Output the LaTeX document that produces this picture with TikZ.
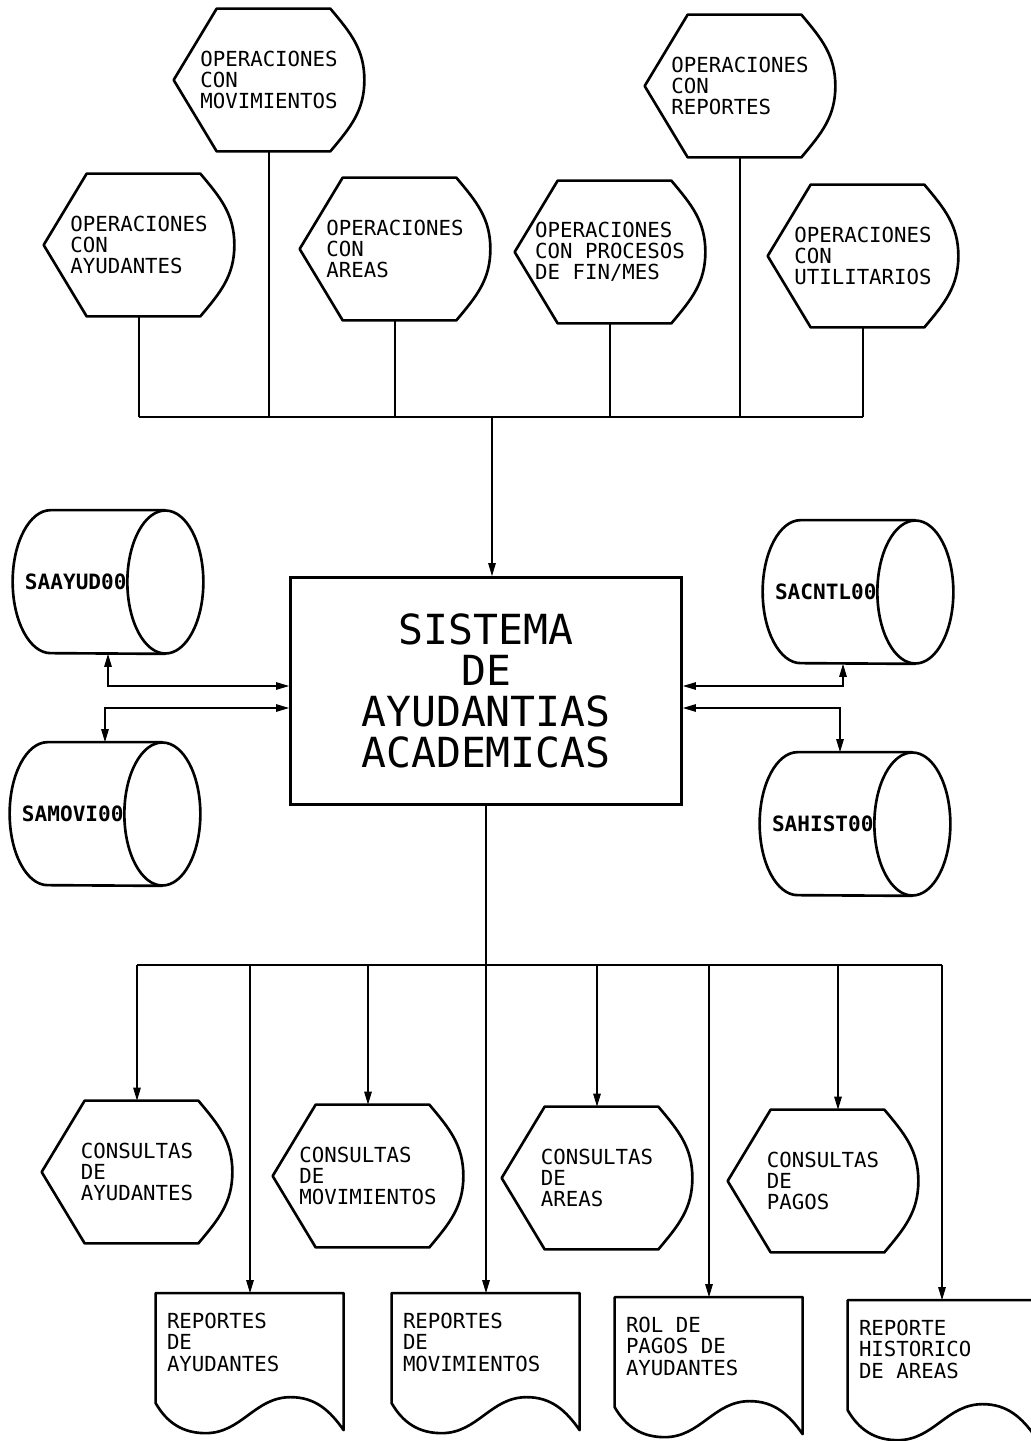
\documentclass[tikz,border=0pt]{standalone}
\usepackage{fontspec}
\setmonofont{DejaVu Sans Mono}
\usetikzlibrary{arrows.meta}

\begin{document}
\begin{tikzpicture}[x=0.2mm, y=-0.2mm,
    lbl/.style={font=\ttfamily\fontsize{11.8}{12}\selectfont, inner sep=0pt},
    disp/.style={lbl, minimum width=38mm, minimum height=28.4mm, align=left},
    disk/.style={lbl, font=\ttfamily\bfseries\fontsize{12}{12}\selectfont,
                 minimum width=38mm, minimum height=28.6mm, inner xsep=2.4mm,
                 text width=33.2mm, align=left},
    doc/.style={lbl, minimum width=37.6mm, minimum height=27.4mm,
                inner xsep=2.2mm, inner ysep=4mm,
                execute at begin node={\begin{minipage}[c][19.4mm][t]{33.2mm}},
                execute at end node={\end{minipage}}},
    sysbox/.style={draw, line width=1.6pt, minimum width=78.2mm,
                   minimum height=45.4mm, align=center,
                   font=\ttfamily\fontsize{23.6}{23.4}\selectfont},
    outline/.style={line width=1.5pt, line join=round},
    wire/.style={line width=0.7pt},
    arr/.style={wire, -{Triangle[length=2.6mm, width=1.5mm]}},
    biarr/.style={wire, {Triangle[length=2.6mm, width=1.5mm]}-{Triangle[length=2.6mm, width=1.5mm]}}]
  \path[use as bounding box, fill=white] (0,0) rectangle (1031,1441);

  % operaciones
  \node[disp] (omov)  at (269,80)  {OPERACIONES\\CON\\MOVIMIENTOS};
  \node[disp] (oayu)  at (139,245) {OPERACIONES\\CON\\AYUDANTES};
  \node[disp] (oare)  at (395,249) {OPERACIONES\\CON\\AREAS};
  \node[disp] (ofin)  at (610,252) {OPERACIONES\\CON PROCESOS\\DE FIN/MES};
  \node[disp] (orep)  at (740,86)  {OPERACIONES\\CON\\REPORTES};
  \node[disp] (outil) at (863,256) {OPERACIONES\\CON\\UTILITARIOS};

  % sistema y archivos
  \node[sysbox] (sys) at (486,691) {SISTEMA\\DE\\AYUDANTIAS\\ACADEMICAS};
  \node[disk] (sayu) at (108,582) {SAAYUD00};
  \node[disk] (smov) at (105,814) {SAMOVI00};
  \node[disk] (scnt) at (858,592) {SACNTL00};
  \node[disk] (shis) at (855,824) {SAHIST00};

  % consultas y reportes
  \node[disp] (cayu) at (137,1172) {CONSULTAS\\DE\\AYUDANTES};
  \node[disp] (cmov) at (368,1176) {CONSULTAS\\DE\\MOVIMIENTOS};
  \node[disp] (care) at (597,1178) {CONSULTAS\\DE\\AREAS};
  \node[disp] (cpag) at (823,1181) {CONSULTAS\\DE\\PAGOS};
  \node[doc] (rayu) at (250,1362) {REPORTES\\DE\\AYUDANTES};
  \node[doc] (rmov) at (486,1362) {REPORTES\\DE\\MOVIMIENTOS};
  \node[doc] (rrol) at (709,1366) {ROL DE\\PAGOS DE\\AYUDANTES};
  \node[doc] (rhis) at (942,1369) {REPORTE\\HISTORICO\\DE AREAS};

  % outlines
  \foreach \n in {oayu,omov,oare,ofin,orep,outil,cayu,cmov,care,cpag}
    \draw[outline] (\n.west) -- ([xshift=8.6mm]\n.north west)
      -- ([xshift=-6.8mm]\n.north east) to[out=-50,in=90] (\n.east)
      to[out=-90,in=50] ([xshift=-6.8mm]\n.south east)
      -- ([xshift=8.6mm]\n.south west) -- cycle;
  \foreach \n in {sayu,smov,scnt,shis} {
    \draw[outline] ([xshift=-7.6mm]\n.north east) -- ([xshift=7.6mm]\n.north west)
      arc[start angle=90, end angle=270, x radius=7.6mm, y radius=14.3mm]
      -- ([xshift=-7.6mm]\n.south east);
    \draw[outline] ([xshift=-7.6mm]\n.east) ellipse[x radius=7.6mm, y radius=14.3mm];
  }
  \foreach \n in {rayu,rmov,rrol,rhis}
    \draw[outline, shift={(\n.north west)}] (0,0) -- (188,0) -- (188,137)
      to[out=125,in=0] (135,104) to[out=180,in=0] (50,140)
      to[out=180,in=-60] (0,110) -- cycle;

  % top bus
  \coordinate (tbus) at (492,417);
  \foreach \n in {oayu,omov,oare,ofin,orep,outil}
    \draw[wire] (\n.south) -- (\n.south |- tbus);
  \draw[wire] (tbus -| oayu.south) -- (tbus -| outil.south);
  \draw[arr] (tbus) -- (tbus |- sys.north);

  % files
  \draw[biarr] (sayu.south) |- ([yshift=1mm]sys.west);
  \draw[biarr] (smov.north) |- ([yshift=-3.4mm]sys.west);
  \draw[biarr] ([xshift=-3mm]scnt.south) |- ([yshift=1mm]sys.east);
  \draw[biarr] ([xshift=-3mm]shis.north) |- ([yshift=-3.4mm]sys.east);

  % bottom bus
  \coordinate (bbus) at (486,965);
  \draw[arr] (sys.south) -- (rmov.north);
  \draw[wire] (bbus -| cayu.north) -- (bbus -| rhis.north);
  \foreach \n in {cayu,rayu,cmov,care,rrol,rhis}
    \draw[arr] (bbus -| \n.north) -- (\n.north);
  \draw[arr] ([xshift=3mm]cpag.north |- bbus) -- ([xshift=3mm]cpag.north);
\end{tikzpicture}
\end{document}
